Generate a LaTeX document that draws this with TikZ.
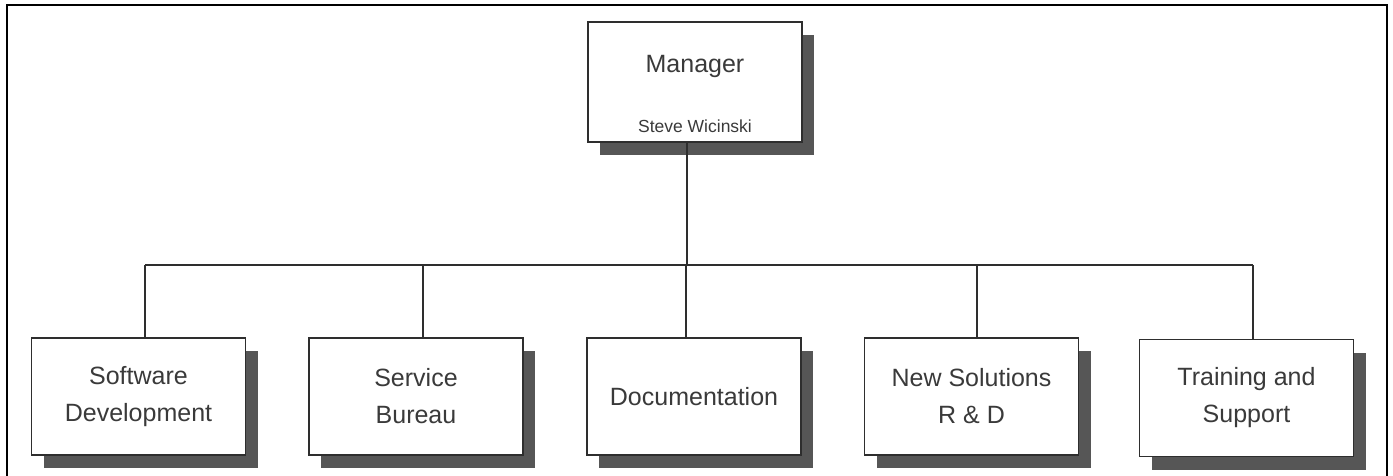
\documentclass[tikz,border=0pt]{standalone}
\usepackage{fontspec}
\setmainfont{Liberation Sans}
\usetikzlibrary{shadows}
\definecolor{txt}{HTML}{3A3A3A}
\definecolor{edge}{HTML}{2E2E2E}
\definecolor{shade}{HTML}{565656}
\begin{document}
\begin{tikzpicture}[x=1pt,y=-1pt,
  unitbox/.style={draw=edge, line width=1.8pt, fill=white, minimum width=214pt,
    align=center, text=txt, font=\fontsize{25}{37}\selectfont,
    drop shadow={shadow xshift=12pt, shadow yshift=-13pt, fill=shade, opacity=1}},
  conn/.style={draw=edge, line width=1.6pt},
  frameline/.style={draw=black, line width=2.6pt}]
\useasboundingbox (0,0) rectangle (1393,476);
\draw[frameline] (7,476) -- (7,5) -- (1387,5) -- (1387,476);

\node[unitbox, minimum height=120pt] (mgr) at (695,82) {};
\node[text=txt, font=\fontsize{25}{30}\selectfont] (mgrtitle) at (695,66) {Manager};
\node[text=txt, font=\fontsize{17.5}{21}\selectfont] (mgrname) at (695,126) {Steve Wicinski};

\node[unitbox, minimum height=117pt] (sd) at (138.5,396.5) {Software\\Development};
\node[unitbox, minimum height=117pt] (sb) at (416,396.5) {Service\\Bureau};
\node[unitbox, minimum height=117pt] (doc) at (694,396.5) {Documentation};
\node[unitbox, minimum height=117pt] (ns) at (971.5,396.5) {New Solutions\\R \& D};
\node[unitbox, minimum height=117pt] (ts) at (1246.5,398) {Training and\\Support};

\coordinate (bar) at (0,265);
\coordinate (mgrb) at ([xshift=-8pt]mgr.south);
\coordinate (sdt) at ([xshift=6.5pt]sd.north);
\coordinate (sbt) at ([xshift=7pt]sb.north);
\coordinate (doct) at ([xshift=-8pt]doc.north);
\coordinate (nst) at ([xshift=5.5pt]ns.north);
\coordinate (tst) at ([xshift=6.5pt]ts.north);

\draw[conn] (mgrb) -- (mgrb |- bar);
\draw[conn] (sdt |- bar) -- (tst |- bar);
\foreach \c in {sdt,sbt,doct,nst,tst}
  \draw[conn] (\c |- bar) -- (\c);
\end{tikzpicture}
\end{document}
